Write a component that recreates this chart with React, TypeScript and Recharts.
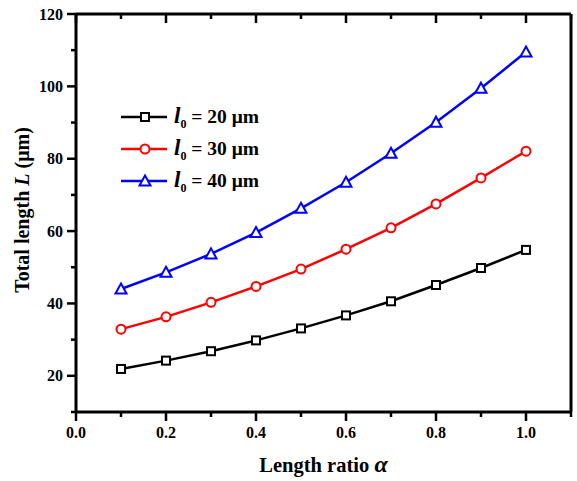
import React from "react";
import { LineChart, Line, XAxis, YAxis, Legend } from "recharts";

const alpha = [0.1, 0.2, 0.3, 0.4, 0.5, 0.6, 0.7, 0.8, 0.9, 1.0];
const l20 = [21.9, 24.2, 26.8, 29.8, 33.1, 36.7, 40.6, 45.1, 49.8, 54.8];
const l30 = [32.9, 36.3, 40.3, 44.7, 49.5, 55.0, 60.9, 67.5, 74.7, 82.1];
const l40 = [44.0, 48.6, 53.7, 59.6, 66.3, 73.5, 81.5, 90.1, 99.5, 109.5];

const xTicks = [0, 0.1, 0.2, 0.3, 0.4, 0.5, 0.6, 0.7, 0.8, 0.9, 1.0, 1.1];
const yTicks = [10, 20, 30, 40, 50, 60, 70, 80, 90, 100, 110, 120];

const seriesNames = ["20 μm", "30 μm", "40 μm"];

const data = alpha.map((a, i) => ({ alpha: a, s20: l20[i], s30: l30[i], s40: l40[i] }));

const FONT = '"Liberation Serif", "Times New Roman", serif';
const TICK_COLOR = "#000";

const isMajorX = (v: number) => Math.round(v * 10) % 2 === 0;
const isMajorY = (v: number) => Math.round(v) % 20 === 0;

const BottomTick = (props: any) => {
  const { x, y, payload } = props;
  const major = isMajorX(payload.value);
  return (
    <g>
      <line x1={x} x2={x} y1={y} y2={y + (major ? 9 : 5)} stroke={TICK_COLOR} strokeWidth={2.5} />
      {major && (
        <text x={x} y={y + 26} textAnchor="middle" fontFamily={FONT} fontWeight="bold" fontSize={16} fill="#000">
          {payload.value.toFixed(1)}
        </text>
      )}
    </g>
  );
};

const TopTick = (props: any) => {
  const { x, y, payload } = props;
  const major = isMajorX(payload.value);
  return <line x1={x} x2={x} y1={y} y2={y + (major ? 9 : 5)} stroke={TICK_COLOR} strokeWidth={2.5} />;
};

const LeftTick = (props: any) => {
  const { x, y, payload } = props;
  const major = isMajorY(payload.value);
  return (
    <g>
      <line x1={x - (major ? 9 : 5)} x2={x} y1={y} y2={y} stroke={TICK_COLOR} strokeWidth={2.5} />
      {major && (
        <text x={x - 13} y={y + 5.5} textAnchor="end" fontFamily={FONT} fontWeight="bold" fontSize={16} fill="#000">
          {payload.value}
        </text>
      )}
    </g>
  );
};

const RightTick = (props: any) => {
  const { x, y, payload } = props;
  const major = isMajorY(payload.value);
  return <line x1={x - (major ? 9 : 5)} x2={x} y1={y} y2={y} stroke={TICK_COLOR} strokeWidth={2.5} />;
};

const SquareDot = (props: any) => {
  const { cx, cy } = props;
  if (cx == null || cy == null) return null;
  return <rect x={cx - 4} y={cy - 4} width={8} height={8} fill="#fff" stroke="#000" strokeWidth={2} />;
};

const CircleDot = (props: any) => {
  const { cx, cy } = props;
  if (cx == null || cy == null) return null;
  return <circle cx={cx} cy={cy} r={4.5} fill="#fff" stroke="#ff0000" strokeWidth={2} />;
};

const TriangleDot = (props: any) => {
  const { cx, cy } = props;
  if (cx == null || cy == null) return null;
  return (
    <polygon
      points={`${cx},${cy - 5.5} ${cx + 5.5},${cy + 4.5} ${cx - 5.5},${cy + 4.5}`}
      fill="#fff"
      stroke="#0000ff"
      strokeWidth={2}
    />
  );
};

const markers = [SquareDot, CircleDot, TriangleDot];

const renderLegend = (props: any) => {
  const payload = props.payload || [];
  return (
    <svg width={180} height={100}>
      {payload.map((entry: any, i: number) => {
        const y = 17 + i * 32;
        const M = markers[i];
        return (
          <g key={i}>
            <line x1={1} x2={47} y1={y} y2={y} stroke={entry.color} strokeWidth={2.5} />
            <M cx={25} cy={y} />
            <text x={54} y={y + 6} fontFamily={FONT} fontWeight="bold" fill="#000">
              <tspan fontStyle="italic" fontSize={23}>l</tspan>
              <tspan fontSize={12} dy={5}>0</tspan>
              <tspan fontSize={19.5} dy={-5}>{" = " + entry.value}</tspan>
            </text>
          </g>
        );
      })}
    </svg>
  );
};

const YTitle = (props: any) => {
  const vb = props.viewBox || { x: 0, y: 14, width: 76, height: 398 };
  const cx = vb.x + 29;
  const cy = vb.y + vb.height / 2 - 3;
  return (
    <text
      x={cx}
      y={cy}
      transform={`rotate(-90, ${cx}, ${cy})`}
      textAnchor="middle"
      fontFamily={FONT}
      fontWeight="bold"
      fontSize={20}
      fill="#000"
    >
      Total length <tspan fontStyle="italic">L</tspan> (μm)
    </text>
  );
};

const XTitle = (props: any) => {
  const vb = props.viewBox || { x: 76, y: 412, width: 495, height: 69 };
  const cx = vb.x + vb.width / 2;
  const cy = vb.y + 60;
  return (
    <text x={cx} y={cy} textAnchor="middle" fontFamily={FONT} fontWeight="bold" fontSize={20.5} fill="#000">
      Length ratio <tspan fontStyle="italic" fontSize={24}>α</tspan>
    </text>
  );
};

const axisLineStyle = { stroke: "#000", strokeWidth: 3 };

export default function App() {
  return (
    <div style={{ position: "absolute", left: 0, top: 0, background: "#fff" }}>
      <LineChart width={577} height={481} data={data} margin={{ top: 4, right: 0, bottom: 0, left: 0 }}>
        <XAxis
          xAxisId="bottom"
          dataKey="alpha"
          type="number"
          domain={[0, 1.1]}
          ticks={xTicks}
          interval={0}
          height={69}
          tickSize={0}
          tickMargin={0}
          tickLine={false}
          tick={<BottomTick />}
          axisLine={axisLineStyle}
          label={XTitle}
        />
        <XAxis
          xAxisId="top"
          orientation="top"
          dataKey="alpha"
          type="number"
          domain={[0, 1.1]}
          ticks={xTicks}
          interval={0}
          height={10}
          tickSize={0}
          tickMargin={0}
          tickLine={false}
          tick={<TopTick />}
          axisLine={axisLineStyle}
        />
        <YAxis
          yAxisId="left"
          type="number"
          domain={[10, 120]}
          ticks={yTicks}
          interval={0}
          width={76}
          tickSize={0}
          tickMargin={0}
          tickLine={false}
          tick={<LeftTick />}
          axisLine={axisLineStyle}
          label={YTitle}
        />
        <YAxis
          yAxisId="right"
          orientation="right"
          type="number"
          domain={[10, 120]}
          ticks={yTicks}
          interval={0}
          width={6}
          tickSize={0}
          tickMargin={0}
          tickLine={false}
          tick={<RightTick />}
          axisLine={axisLineStyle}
        />
        <Legend
          layout="vertical"
          align="center"
          verticalAlign="middle"
          content={renderLegend}
          wrapperStyle={{ left: 120, top: 100, width: 180, height: 100 }}
        />
        <Line
          xAxisId="bottom"
          yAxisId="left"
          type="linear"
          dataKey="s20"
          name={seriesNames[0]}
          stroke="#000000"
          strokeWidth={2.5}
          dot={<SquareDot />}
          isAnimationActive={false}
        />
        <Line
          xAxisId="bottom"
          yAxisId="left"
          type="linear"
          dataKey="s30"
          name={seriesNames[1]}
          stroke="#ff0000"
          strokeWidth={2.5}
          dot={<CircleDot />}
          isAnimationActive={false}
        />
        <Line
          xAxisId="bottom"
          yAxisId="left"
          type="linear"
          dataKey="s40"
          name={seriesNames[2]}
          stroke="#0000ff"
          strokeWidth={2.5}
          dot={<TriangleDot />}
          isAnimationActive={false}
        />
      </LineChart>
    </div>
  );
}
